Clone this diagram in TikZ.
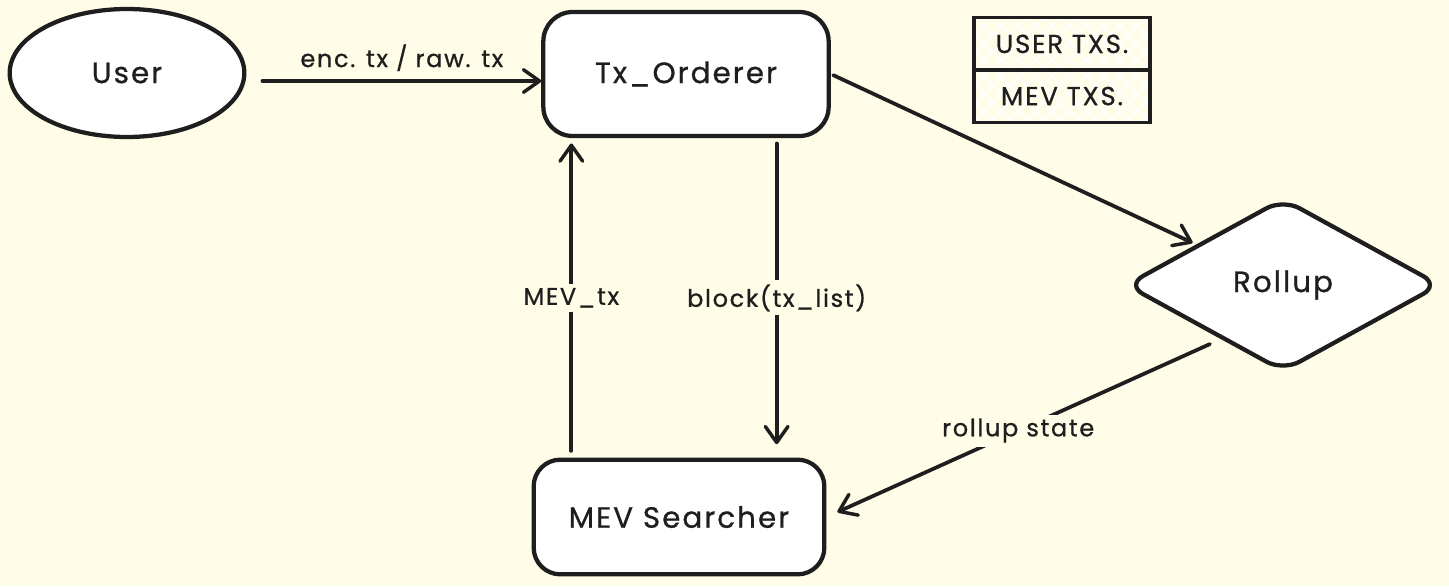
\documentclass[tikz,border=0pt]{standalone}
\usepackage{fontspec}
\setmainfont{Poppins}[LetterSpace=7, FakeBold=0.8]
\usetikzlibrary{shapes.geometric, shapes.multipart, arrows.meta, positioning, patterns.meta}
\definecolor{paper}{RGB}{255,253,232}
\definecolor{ink}{RGB}{30,30,30}

\begin{document}
\begin{tikzpicture}[
  x=0.75pt, y=-0.75pt,
  blk/.style={draw=ink, line width=3.2pt, fill=white, text=ink,
              font=\fontsize{22}{26}\selectfont},
  rbox/.style={blk, rectangle, rounded corners=22pt,
               minimum width=214pt, minimum height=93pt},
  txtable/.style={rectangle split, rectangle split parts=2, draw=ink, line width=2.4pt,
               text=ink, minimum width=132pt, inner ysep=12pt,
               font=\fontsize{19.5}{22}\selectfont,
               preaction={pattern={Lines[angle=45,distance=9pt,line width=1.2pt]}, pattern color=white},
               pattern={Lines[angle=-45,distance=9pt,line width=1.2pt]}, pattern color=white},
  arr/.style={-{Straight Barb[length=12pt,width=17pt,line width=2.6pt,round]},
              line width=2.8pt, draw=ink, line cap=round},
  lbl/.style={font=\fontsize{18}{21}\selectfont, text=ink, fill=paper, inner sep=3pt}
]
%% Canvas
\fill[paper] (0,0) rectangle (1449,586);
\useasboundingbox (0,0) rectangle (1449,586);

%% Nodes
\node[blk, ellipse, minimum width=176pt, minimum height=96pt] (usr) at (127,73) {User};
\node[rbox] (ord) at (686,74) {Tx\_Orderer};
\node[rbox, minimum width=218pt, minimum height=86pt, rounded corners=20pt] (mev) at (679,517) {MEV Searcher};
\node[blk, diamond, rounded corners=14pt, inner sep=0pt,
      minimum width=236pt, minimum height=130pt] (roll) at (1283,285) {Rollup};

%% Legend table
\node[txtable] (txs) at (1062,70) {USER TXS.\nodepart{two}MEV TXS.};

%% Connectors
\draw[arr] ([xshift=12pt,yshift=-6pt]usr.east) -- ([yshift=-6pt]usr.east -| ord.west)
    node[midway, above=3pt, lbl, fill=none] {enc. tx / raw. tx};
\draw[arr, shorten <=2pt, shorten >=3pt] (ord.east) -- (roll);
\draw[arr, shorten <=4pt, shorten >=10pt] ([xshift=68pt]ord.south) -- ([xshift=68pt]ord.south |- mev.north)
    node[midway, lbl] {block(tx\_list)};
\draw[arr, shorten <=5pt, shorten >=4pt] ([xshift=-86pt]ord.south |- mev.north) -- ([xshift=-86pt]ord.south)
    node[midway, lbl] {MEV\_tx};
\draw[arr, shorten >=9pt] ([xshift=5pt,yshift=-11pt]roll.south west) -- (mev.east)
    node[midway, lbl] {rollup state};
\end{tikzpicture}
\end{document}
